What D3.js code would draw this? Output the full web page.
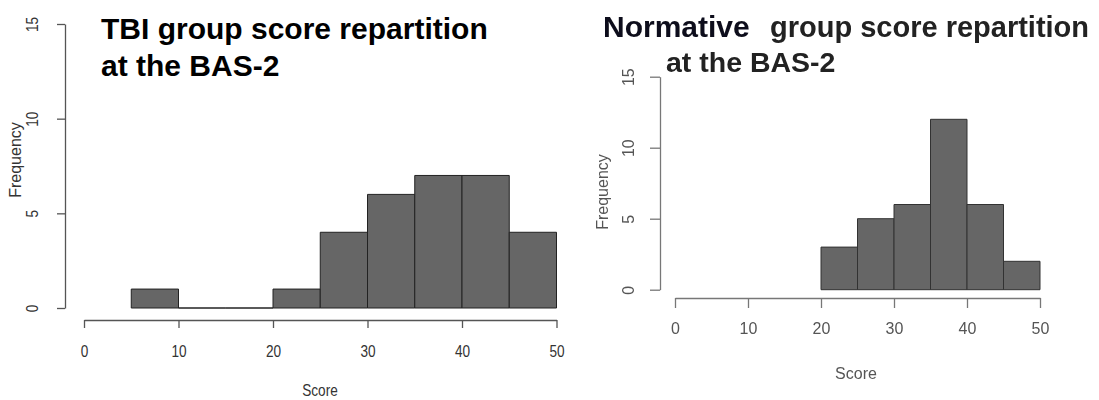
<!DOCTYPE html>
<html>
<head>
<meta charset="utf-8">
<script src="https://cdn.jsdelivr.net/npm/d3@7"></script>
<style>
  html, body { margin: 0; padding: 0; background: #fff; }
  svg { display: block; }
</style>
</head>
<body>
<svg id="chart" width="1099" height="400"></svg>
<script>
// 直方圖數據（每组寬度 5）
const binWidth = 5
const tbiBins = [5, 10, 15, 20, 25, 30, 35, 40, 45]
const tbiCounts = [1, 0, 0, 1, 4, 6, 7, 7, 4]
const normBins = [20, 25, 30, 35, 40, 45]
const normCounts = [3, 5, 6, 12, 6, 2]
const xTicks = [0, 10, 20, 30, 40, 50]
const yTicks = [0, 5, 10, 15]

const svg = d3.select('#chart')

// 模糊濾鏡，右圖是截圖比較糊
svg.append('defs')
    .append('filter')
    .attr('id', 'soft')
    .append('feGaussianBlur')
    .attr('stdDeviation', 0.55)

// 畫一个 R 風格的直方圖
function drawHist(g, opt) {
    const x = d3.scaleLinear().domain([0, 50]).range(opt.xRange)
    const y = d3.scaleLinear().domain([0, 15]).range(opt.yRange)
    const sx = `scale(${opt.squeeze},1)` // 字体横向压缩

    // 柱子，用 path 以便 0 高度也能画出底线
    g.append('g')
        .selectAll('path')
        .data(opt.bins.map((b, i) => ({ x0: b, x1: b + binWidth, n: opt.counts[i] })))
        .join('path')
        .attr('d', (d) => `M${x(d.x0)},${y(0)}V${y(d.n)}H${x(d.x1)}V${y(0)}Z`)
        .attr('fill', '#666666')
        .attr('stroke', opt.barStroke)
        .attr('stroke-width', 1)

    // x 軸
    const xAxis = g.append('g')
        .attr('transform', `translate(0,${opt.xAxisY})`)
        .call(d3.axisBottom(x).tickValues(xTicks).tickSize(opt.tickLen).tickSizeOuter(0).tickPadding(opt.xPad))
    xAxis.select('.domain').attr('stroke', opt.axisColor).attr('stroke-width', 1.3)
    xAxis.selectAll('.tick line').attr('stroke', opt.axisColor).attr('stroke-width', 1.3)
    xAxis.selectAll('text')
        .attr('transform', sx)
        .attr('fill', opt.textColor)
        .style('font-family', opt.tickFont)
        .style('font-size', opt.tickSize + 'px')

    // y 軸
    const yAxis = g.append('g')
        .attr('transform', `translate(${opt.yAxisX},0)`)
        .call(d3.axisLeft(y).tickValues(yTicks).tickSize(opt.tickLen).tickSizeOuter(0))
    yAxis.select('.domain').attr('stroke', opt.axisColor).attr('stroke-width', 1.3)
    yAxis.selectAll('.tick line').attr('stroke', opt.axisColor).attr('stroke-width', 1.3)
    // 刻度文字旋轉 90 度
    yAxis.selectAll('text')
        .attr('x', null)
        .attr('dy', null)
        .attr('transform', `translate(${-opt.yLabOff},0) rotate(-90) ${sx}`)
        .attr('text-anchor', 'middle')
        .attr('fill', opt.textColor)
        .style('font-family', opt.tickFont)
        .style('font-size', opt.tickSize + 'px')

    // 軸標題
    g.append('text')
        .attr('transform', `translate(${opt.scorePos[0]},${opt.scorePos[1]}) ${sx}`)
        .attr('text-anchor', 'middle')
        .attr('fill', opt.textColor)
        .style('font-family', opt.tickFont)
        .style('font-size', opt.labelSize + 'px')
        .text('Score')

    g.append('text')
        .attr('transform', `translate(${opt.freqPos[0]},${opt.freqPos[1]}) rotate(-90)`)
        .attr('text-anchor', 'middle')
        .attr('fill', opt.textColor)
        .style('font-family', opt.tickFont)
        .style('font-size', opt.labelSize + 'px')
        .text('Frequency')
}

// 左圖：TBI
const left = svg.append('g')
drawHist(left, {
    bins: tbiBins,
    counts: tbiCounts,
    xRange: [84, 556.5],
    yRange: [308, 24],
    xAxisY: 320,
    yAxisX: 65,
    tickLen: 8,
    xPad: 18,
    yLabOff: 27,
    squeeze: 0.85,
    axisColor: '#555',
    textColor: '#333',
    barStroke: '#222',
    tickFont: '"Liberation Sans", Arial, sans-serif',
    tickSize: 16,
    labelSize: 16,
    scorePos: [320, 396],
    freqPos: [21, 160]
})

const titleFont = '"Liberation Sans", Arial, sans-serif'
left.append('text')
    .attr('x', 101)
    .attr('y', 39)
    .style('font-family', titleFont)
    .style('font-weight', 'bold')
    .style('font-size', '30px')
    .text('TBI group score repartition')
left.append('text')
    .attr('x', 101)
    .attr('y', 76)
    .style('font-family', titleFont)
    .style('font-weight', 'bold')
    .style('font-size', '30px')
    .text('at the BAS-2')

// 右圖：常模组
const right = svg.append('g').attr('filter', 'url(#soft)')
drawHist(right, {
    bins: normBins,
    counts: normCounts,
    xRange: [675, 1040],
    yRange: [289.7, 76.7],
    xAxisY: 298,
    yAxisX: 660,
    tickLen: 10,
    xPad: 15,
    yLabOff: 26,
    squeeze: 1,
    axisColor: '#777',
    textColor: '#555',
    barStroke: '#333',
    tickFont: '"Liberation Sans", Arial, sans-serif',
    tickSize: 16,
    labelSize: 16,
    scorePos: [856, 379],
    freqPos: [608, 192]
})

const t = right.append('text')
    .attr('x', 603)
    .attr('y', 37)
    .style('font-family', titleFont)
    .style('font-weight', 'bold')
t.append('tspan')
    .attr('fill', '#0d0d1a')
    .style('font-size', '30px')
    .text('Normative')
t.append('tspan')
    .attr('x', 770)
    .attr('fill', '#222')
    .style('font-size', '29px')
    .text('group score repartition')
right.append('text')
    .attr('x', 666)
    .attr('y', 72)
    .attr('fill', '#222')
    .style('font-family', titleFont)
    .style('font-weight', 'bold')
    .style('font-size', '28.5px')
    .text('at the BAS-2')
</script>
</body>
</html>
